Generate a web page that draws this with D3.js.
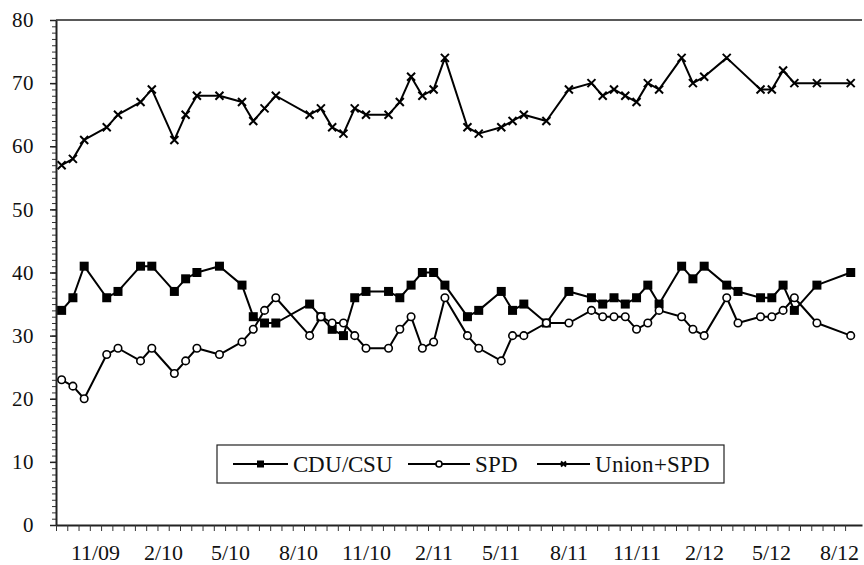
<!DOCTYPE html>
<html>
<head>
<meta charset="utf-8">
<script src="https://cdn.jsdelivr.net/npm/d3@7"></script>
<style>
  @font-face {
    font-family: 'ChartSerif';
    src: local('Liberation Serif'), local('LiberationSerif'), local('LiberationSerif-Regular'),
         local('DejaVu Serif'), local('DejaVuSerif'), local('Times New Roman'), local('Noto Serif');
  }
  body { margin: 0; background: #fff; }
  svg { display: block; }
  svg text { font-family: 'ChartSerif', 'Liberation Serif', serif; fill: #111; }
</style>
</head>
<body>
<div id="chart"></div>
<script>
// half-month slots (0 = second half of Sept 2009)
const slots = [0, 1, 2, 4, 5, 7, 8, 10, 11, 12, 14, 16, 17, 18, 19, 22, 23, 24, 25, 26,
  27, 29, 30, 31, 32, 33, 34, 36, 37, 39, 40, 41, 43, 45, 47, 48, 49, 50, 51, 52,
  53, 55, 56, 57, 59, 60, 62, 63, 64, 65, 67, 70];
const cdu = [34, 36, 41, 36, 37, 41, 41, 37, 39, 40, 41, 38, 33, 32, 32, 35, 33, 31, 30, 36,
  37, 37, 36, 38, 40, 40, 38, 33, 34, 37, 34, 35, 32, 37, 36, 35, 36, 35, 36, 38,
  35, 41, 39, 41, 38, 37, 36, 36, 38, 34, 38, 40];
const spd = [23, 22, 20, 27, 28, 26, 28, 24, 26, 28, 27, 29, 31, 34, 36, 30, 33, 32, 32, 30,
  28, 28, 31, 33, 28, 29, 36, 30, 28, 26, 30, 30, 32, 32, 34, 33, 33, 33, 31, 32,
  34, 33, 31, 30, 36, 32, 33, 33, 34, 36, 32, 30];
const unionSpd = [57, 58, 61, 63, 65, 67, 69, 61, 65, 68, 68, 67, 64, 66, 68, 65, 66, 63, 62, 66,
  65, 65, 67, 71, 68, 69, 74, 63, 62, 63, 64, 65, 64, 69, 70, 68, 69, 68, 67, 70,
  69, 74, 70, 71, 74, null, 69, 69, 72, 70, 70, 70];
const tickLabels = ["11/09", "2/10", "5/10", "8/10", "11/10", "2/11", "5/11", "8/11", "11/11", "2/12", "5/12", "8/12"];
const labelSlots = [3, 9, 15, 21, 27, 33, 39, 45, 51, 57, 63, 69];

const width = 864, height = 565;
const plotLeft = 56, plotRight = 862, plotTop = 20, plotBottom = 525;
const serif = "ChartSerif, 'Liberation Serif', serif";

const svg = d3.select('#chart').append('svg')
  .attr('width', width)
  .attr('height', height)
  .attr('font-family', serif);

const x = d3.scaleLinear().domain([-0.5, 71]).range([plotLeft, plotRight]);
const y = d3.scaleLinear().domain([0, 80]).range([plotBottom, plotTop]);

// top border
svg.append('line')
  .attr('x1', plotLeft).attr('x2', plotRight)
  .attr('y1', plotTop).attr('y2', plotTop)
  .attr('stroke', '#222').attr('stroke-width', 1.5);

// y axis: minor ticks then major ticks with labels
svg.append('g')
  .attr('transform', `translate(${plotLeft},0)`)
  .call(d3.axisLeft(y).tickValues(d3.range(0, 81, 1)).tickSize(4).tickFormat(''))
  .call(g => g.select('.domain').remove())
  .call(g => g.selectAll('line').attr('stroke', '#333').attr('stroke-width', 1));

const yAxis = svg.append('g')
  .attr('transform', `translate(${plotLeft},0)`)
  .call(d3.axisLeft(y).tickValues(d3.range(0, 81, 10)).tickSize(6).tickPadding(16).tickSizeOuter(0));
yAxis.attr('font-family', serif).attr('font-size', 21);
yAxis.select('.domain').attr('stroke', '#222').attr('stroke-width', 2);
yAxis.selectAll('line').attr('stroke', '#222').attr('stroke-width', 1.5);
yAxis.selectAll('text').attr('fill', '#111');

// x axis ticks at slot boundaries
const boundaries = d3.range(0, 71).map(k => k - 0.5);
const xAxis = svg.append('g')
  .attr('transform', `translate(0,${plotBottom})`)
  .call(d3.axisBottom(x).tickValues(boundaries).tickSize(6).tickFormat('').tickSizeOuter(0));
xAxis.select('.domain').attr('stroke', '#222').attr('stroke-width', 2);
xAxis.selectAll('line').attr('stroke', '#333').attr('stroke-width', 1);

svg.append('g').selectAll('text')
  .data(tickLabels)
  .join('text')
  .attr('x', (d, i) => x(labelSlots[i]))
  .attr('y', 560)
  .attr('text-anchor', 'middle')
  .attr('font-size', 22)
  .text(d => d);

// series
const series = [
  { name: 'CDU/CSU', values: cdu, marker: 'square' },
  { name: 'SPD', values: spd, marker: 'circle' },
  { name: 'Union+SPD', values: unionSpd, marker: 'cross' }
];

const line = d3.line().x(d => x(d.slot)).y(d => y(d.v));

function drawMarker(g, type, size) {
  if (type === 'square') {
    g.append('rect')
      .attr('x', -size / 2).attr('y', -size / 2)
      .attr('width', size).attr('height', size)
      .attr('fill', '#000');
  } else if (type === 'circle') {
    g.append('circle')
      .attr('r', size / 2)
      .attr('fill', '#fff')
      .attr('stroke', '#000')
      .attr('stroke-width', 1.6);
  } else {
    const h = size / 2;
    g.append('path')
      .attr('d', `M${-h},${-h}L${h},${h}M${-h},${h}L${h},${-h}`)
      .attr('stroke', '#000')
      .attr('stroke-width', 2);
  }
}

const sizes = { square: 9, circle: 7.5, cross: 8 };

series.forEach(s => {
  const pts = slots.map((slot, i) => ({ slot, v: s.values[i] })).filter(d => d.v !== null);
  svg.append('path')
    .datum(pts)
    .attr('fill', 'none')
    .attr('stroke', '#000')
    .attr('stroke-width', 2)
    .attr('stroke-linejoin', 'round')
    .attr('d', line);
  svg.append('g').selectAll('g')
    .data(pts)
    .join('g')
    .attr('transform', d => `translate(${x(d.slot)},${y(d.v)})`)
    .each(function () { drawMarker(d3.select(this), s.marker, sizes[s.marker]); });
});

// legend
const legend = svg.append('g');
legend.append('rect')
  .attr('x', 217).attr('y', 445)
  .attr('width', 507).attr('height', 38)
  .attr('fill', '#fff')
  .attr('stroke', '#222')
  .attr('stroke-width', 1.2);

const legendItems = [
  { lx: 233, tx: 293 },
  { lx: 408, tx: 475 },
  { lx: 537, tx: 595 }
];
series.forEach((s, i) => {
  const it = legendItems[i];
  const cy = 464;
  const lw = it.tx - it.lx - 5;
  legend.append('line')
    .attr('x1', it.lx).attr('x2', it.lx + lw)
    .attr('y1', cy).attr('y2', cy)
    .attr('stroke', '#000').attr('stroke-width', 2);
  const m = legend.append('g').attr('transform', `translate(${it.lx + lw / 2},${cy})`);
  drawMarker(m, s.marker, s.marker === 'square' ? 7 : (s.marker === 'circle' ? 6 : 5));
  legend.append('text')
    .attr('x', it.tx).attr('y', cy + 8)
    .attr('font-size', 23)
    .text(s.name);
});
</script>
</body>
</html>
